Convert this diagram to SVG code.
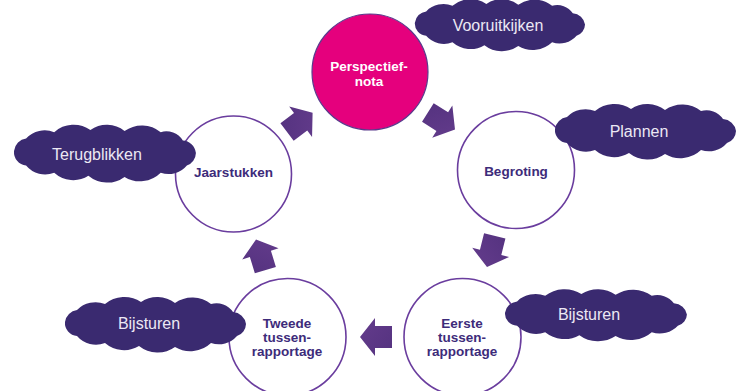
<svg xmlns="http://www.w3.org/2000/svg" xmlns:xlink="http://www.w3.org/1999/xlink" width="738" height="391" viewBox="0 0 738 391">
<style>
.ring{fill:#ffffff;stroke:#6a3d9e;stroke-width:1.6}
.pink{fill:#e5007d;stroke:#5a3a8c;stroke-width:1.2}
.lbl{font-family:"Liberation Sans",Arial,sans-serif;font-weight:bold;font-size:13.5px;fill:#3d2b7a;text-anchor:middle}
.lblw{fill:#ffffff}
.cloud{fill:#3a2a70}
.ctext{font-family:"Liberation Sans",Arial,sans-serif;font-size:16px;fill:#ece8f4;text-anchor:middle}
.arrow{fill:url(#ag)}
</style>
<defs>
<linearGradient id="ag" x1="0" y1="0" x2="1" y2="1">
<stop offset="0" stop-color="#54327f"/>
<stop offset="1" stop-color="#643c8c"/>
</linearGradient>
<path id="arrowShape" d="M0,0 L-15,-19 L-15,-11 L-32,-11 L-32,11 L-15,11 L-15,19 Z"/>
<path id="cloudShape" d="M2,22 A14,14 0 0 1 14,10 A26,26 0 0 1 42,4 A30,30 0 0 1 78,2 A29,29 0 0 1 112,3 A30,30 0 0 1 148,4 A20,20 0 0 1 170,12 A14,14 0 0 1 183,24 A13,13 0 0 1 174,36 A24,24 0 0 1 148,43 A30,30 0 0 1 112,47 A30,30 0 0 1 76,46 A29,29 0 0 1 42,43 A25,25 0 0 1 14,36 A13,13 0 0 1 2,22 Z"/>
</defs>

<g id="node-perspectiefnota">
<circle class="pink" cx="370" cy="72" r="58"/>
<text class="lbl lblw" x="369" y="70.5">Perspectief-</text>
<text class="lbl lblw" x="369" y="85.5">nota</text>
</g>
<g id="node-begroting">
<circle class="ring" cx="516" cy="170" r="58.5"/>
<text class="lbl" x="516" y="175.5">Begroting</text>
</g>
<g id="node-eerste">
<circle class="ring" cx="462.5" cy="337" r="58.5"/>
<text class="lbl" x="462" y="327.5">Eerste</text>
<text class="lbl" x="462" y="341.5">tussen-</text>
<text class="lbl" x="462" y="355.5">rapportage</text>
</g>
<g id="node-tweede">
<circle class="ring" cx="287.5" cy="337" r="58.5"/>
<text class="lbl" x="287" y="327.5">Tweede</text>
<text class="lbl" x="287" y="341.5">tussen-</text>
<text class="lbl" x="287" y="355.5">rapportage</text>
</g>
<g id="node-jaarstukken">
<circle class="ring" cx="233.5" cy="174" r="58"/>
<text class="lbl" x="233.5" y="176.5">Jaarstukken</text>
</g>

<g id="connectors">
<use xlink:href="#arrowShape" href="#arrowShape" class="arrow" transform="translate(312.6,112.7) rotate(-37)"/>
<use xlink:href="#arrowShape" href="#arrowShape" class="arrow" transform="translate(455,129.5) rotate(32)"/>
<use xlink:href="#arrowShape" href="#arrowShape" class="arrow" transform="translate(487,267) rotate(104)"/>
<use xlink:href="#arrowShape" href="#arrowShape" class="arrow" transform="translate(360,337) rotate(180)"/>
<use xlink:href="#arrowShape" href="#arrowShape" class="arrow" transform="translate(256,239.5) rotate(-107)"/>
</g>

<g id="cloud-vooruitkijken">
<use xlink:href="#cloudShape" href="#cloudShape" class="cloud" transform="translate(413,2) scale(0.94,0.9375)"/>
<text class="ctext" x="498" y="31">Vooruitkijken</text>
</g>
<g id="cloud-plannen">
<use xlink:href="#cloudShape" href="#cloudShape" class="cloud" transform="translate(553,107)"/>
<text class="ctext" x="639" y="137">Plannen</text>
</g>
<g id="cloud-terugblikken">
<use xlink:href="#cloudShape" href="#cloudShape" class="cloud" transform="translate(12,128) scale(1.005,1.04)"/>
<text class="ctext" x="97" y="160">Terugblikken</text>
</g>
<g id="cloud-bijsturen-links">
<use xlink:href="#cloudShape" href="#cloudShape" class="cloud" transform="translate(63,300)"/>
<text class="ctext" x="149" y="329">Bijsturen</text>
</g>
<g id="cloud-bijsturen-rechts">
<use xlink:href="#cloudShape" href="#cloudShape" class="cloud" transform="translate(503,292) scale(1.005,0.9375)"/>
<text class="ctext" x="589" y="320">Bijsturen</text>
</g>
</svg>
